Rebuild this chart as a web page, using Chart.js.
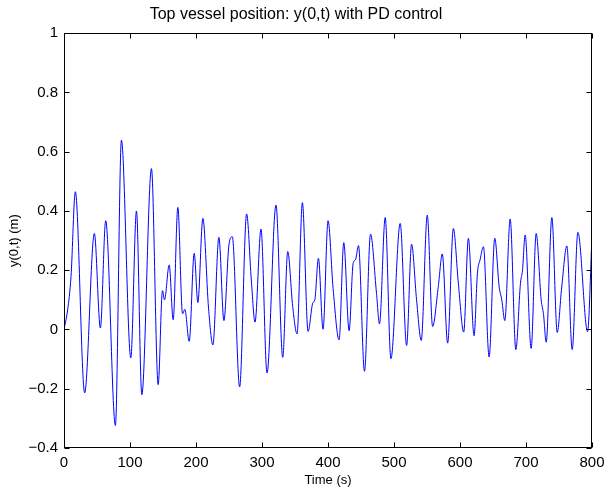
<!DOCTYPE html>
<html lang="en">
<head>
  <meta charset="UTF-8" />
  <title>Top vessel position</title>
  <script src="https://cdn.jsdelivr.net/npm/chart.js"></script>
  <style>
    body, html {
      margin: 0;
      background: #fff;
    }
    canvas { display: block; }
  </style>
</head>
<body>
  <canvas id="posChart" width="613" height="489"></canvas>

  <script>
    // values (turning points and shoulders)
    const times = [0, 5.5, 10.6, 17.2, 31.3, 46, 55.1, 63.2, 77.9, 87, 101.2, 109.8, 117.9, 132.5, 142.7,
      149.2, 152.3, 159.4, 165.4, 172.5, 179.6, 183.1, 189.7, 197.3, 202.8, 210.4, 219, 225.6, 234.7,
      242.3, 249.9, 255, 266.1, 276.7, 283.8, 289.4, 298.5, 307.6, 321.2, 331.4, 339, 346.5, 353.1,
      361.2, 369.8, 377, 380, 385.5, 392.5, 400.1, 407.7, 416.8, 423.9, 432, 438.1, 441.6, 446.2,
      455.3, 464.4, 473.5, 478, 486.7, 495.3, 509.4, 519.1, 526.6, 534.2, 541.3, 550.4, 558.5, 567.1,
      573.2, 581.3, 589.9, 597.5, 605.6, 612.7, 621.3, 626.4, 630.4, 635.5, 644.1, 652.7, 659.3, 663.3,
      667.9, 676, 684.6, 691.6, 694.7, 698.7, 707.8, 715.4, 723, 726.6, 730.6, 739.2, 747.3, 754,
      761.9, 770, 778.6, 793.3, 800];
    const position = [0, 0.066, 0.178, 0.465, -0.214, 0.324, 0.005, 0.367, -0.324, 0.639, -0.096, 0.40, -0.22, 0.543, -0.186,
      0.131, 0.10, 0.218, 0.033, 0.412, 0.053, 0.068, -0.04, 0.257, 0.091, 0.375, 0.072, -0.052, 0.311,
      0.03, 0.285, 0.313, -0.194, 0.39, 0.167, 0.025, 0.339, -0.147, 0.42, -0.094, 0.263, 0.078, -0.015,
      0.428, -0.007, 0.09, 0.10, 0.24, 0.001, 0.367, 0.139, -0.035, 0.293, -0.004, 0.223, 0.235, 0.283,
      -0.141, 0.322, 0.122, 0.019, 0.378, -0.099, 0.358, -0.054, 0.288, 0.10, -0.037, 0.386, 0.01, 0.145,
      0.255, -0.046, 0.341, 0.156, -0.009, 0.308, -0.021, 0.19, 0.235, 0.279, -0.093, 0.308, 0.145, 0.10,
      0.03, 0.373, -0.068, 0.156, 0.20, 0.319, -0.064, 0.324, 0.10, 0.05, -0.043, 0.378, -0.01, 0.14,
      0.282, -0.068, 0.328, -0.007, 0.315];
    const xTicks = [0, 100, 200, 300, 400, 500, 600, 700, 800];
    const yTicks = [-0.4, -0.2, 0, 0.2, 0.4, 0.6, 0.8, 1];

    const FONT = "'Liberation Sans', Arial, Helvetica, sans-serif";

    // MATLAB style box with inward ticks on all four sides
    const frame = {
      id: 'frame',
      afterDraw(chart) {
        const { ctx, chartArea: a, scales: { x, y } } = chart;
        const l = Math.round(a.left) + 0.5, r = Math.round(a.right) - 0.5;
        const t = Math.round(a.top) + 0.5, b = Math.round(a.bottom) - 0.5;
        ctx.save();
        ctx.strokeStyle = '#000';
        ctx.lineWidth = 1;
        ctx.strokeRect(l, t, r - l, b - t);
        ctx.beginPath();
        xTicks.forEach(v => {
          const px = Math.round(x.getPixelForValue(v)) + 0.5;
          ctx.moveTo(px, b); ctx.lineTo(px, b - 5);
          ctx.moveTo(px, t); ctx.lineTo(px, t + 5);
        });
        yTicks.forEach(v => {
          const py = Math.round(y.getPixelForValue(v)) + 0.5;
          ctx.moveTo(l, py); ctx.lineTo(l + 5, py);
          ctx.moveTo(r, py); ctx.lineTo(r - 5, py);
        });
        ctx.stroke();
        ctx.restore();
      }
    };

    const ctx = document.getElementById('posChart').getContext('2d');
    new Chart(ctx, {
      type: 'line',
      data: {
        datasets: [{
          data: times.map((t, i) => ({ x: t, y: position[i] })),
          borderColor: 'rgb(0, 0, 255)',
          borderWidth: 1,
          pointRadius: 0,
          cubicInterpolationMode: 'monotone',
          fill: false
        }]
      },
      options: {
        responsive: false,
        devicePixelRatio: 1,
        animation: false,
        layout: { padding: { left: 0, right: 21, top: 0, bottom: 0 } },
        plugins: {
          legend: { display: false },
          tooltip: { enabled: false },
          title: {
            display: true,
            text: 'Top vessel position: y(0,t) with PD control',
            color: '#000',
            font: { family: FONT, size: 16, weight: 'normal' },
            padding: { top: 5, bottom: 9 }
          }
        },
        scales: {
          x: {
            type: 'linear',
            min: 0,
            max: 800,
            afterBuildTicks: s => { s.ticks = xTicks.map(v => ({ value: v })); },
            afterFit: s => { s.height = 41; },
            grid: { display: false, drawTicks: false },
            border: { display: false },
            ticks: {
              color: '#000',
              padding: 6,
              maxRotation: 0,
              font: { family: FONT, size: 15 }
            },
            title: {
              display: true,
              text: 'Time (s)',
              color: '#000',
              font: { family: FONT, size: 13 },
              padding: { top: 0, bottom: 1 }
            }
          },
          y: {
            min: -0.4,
            max: 1,
            afterBuildTicks: s => { s.ticks = yTicks.map(v => ({ value: v })); },
            afterFit: s => { s.width = 64; },
            grid: { display: false, drawTicks: false },
            border: { display: false },
            ticks: {
              color: '#000',
              padding: 6,
              font: { family: FONT, size: 15 },
              callback: v => {
                const n = Math.round(v * 10) / 10;
                return n < 0 ? '\u2212' + Math.abs(n) : String(n);
              }
            },
            title: {
              display: true,
              text: 'y(0,t) (m)',
              color: '#000',
              font: { family: FONT, size: 13 },
              padding: { top: 7, bottom: 0 }
            }
          }
        }
      },
      plugins: [frame]
    });
  </script>
</body>
</html>
